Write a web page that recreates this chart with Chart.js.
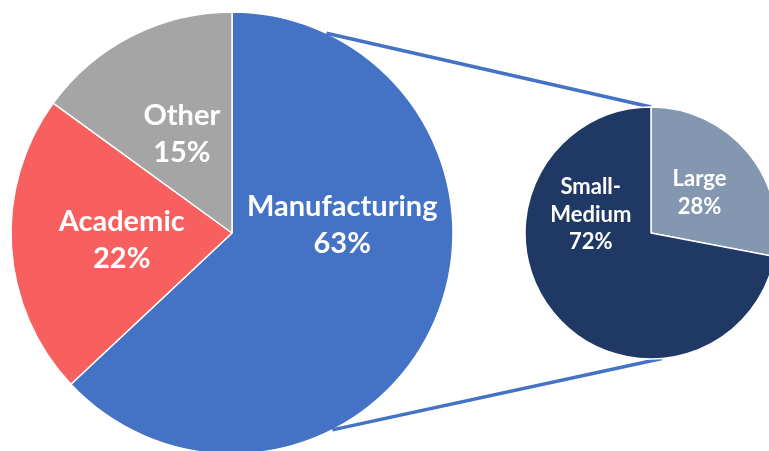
<!DOCTYPE html>
<html>
<head>
<meta charset="utf-8">
<script src="https://cdn.jsdelivr.net/npm/chart.js@4.4.0/dist/chart.umd.min.js"></script>
<style>
  html, body { margin: 0; padding: 0; background: #fff; overflow: hidden; }
  #wrap { position: relative; width: 769px; height: 451px; overflow: hidden; }
  #wrap canvas { position: absolute; left: 0; top: 0; }
</style>
</head>
<body>
<div id="wrap">
  <canvas id="sectorChart" width="769" height="456"></canvas>
  <canvas id="sizeChart" width="769" height="456"></canvas>
</div>
<script>
// main pie: share of users by sector (%)
var sectorLabels = ['Manufacturing', 'Academic', 'Other'];
var sectorShares = [63, 22, 15];
var sectorColors = ['#4472C4', '#F8605F', '#A5A5A5'];

// secondary pie: manufacturing split by company size (%)
var sizeLabels = [['Large'], ['Small-', 'Medium']];
var sizeShares = [28, 72];
var sizeColors = ['#8497B0', '#203864'];

var labelFont = 'Lato, "Liberation Sans", sans-serif';

function degToArc(deg) {
  return (deg - 90) * Math.PI / 180;
}

// white text in each slice, label + percent
var sliceLabelPlugin = {
  id: 'sliceLabels',
  afterDatasetsDraw: function (chart, args, opts) {
    var ctx = chart.ctx;
    var meta = chart.getDatasetMeta(0);
    var values = chart.data.datasets[0].data;
    ctx.save();
    ctx.fillStyle = '#fff';
    ctx.font = 'bold ' + opts.size + 'px ' + labelFont;
    ctx.textAlign = 'center';
    ctx.textBaseline = 'middle';
    meta.data.forEach(function (arc, i) {
      var p = arc.getProps(['x', 'y', 'startAngle', 'endAngle', 'outerRadius'], true);
      var mid = (p.startAngle + p.endAngle) / 2;
      if (opts.angles && opts.angles[i] != null) mid = degToArc(opts.angles[i]);
      var r = p.outerRadius * 0.5;
      var cx = p.x + Math.cos(mid) * r;
      var cy = p.y + Math.sin(mid) * r;
      var lines = [].concat(chart.data.labels[i], values[i] + '%');
      var top = cy - (lines.length - 1) * opts.lineHeight / 2;
      lines.forEach(function (t, k) {
        ctx.fillText(t, cx, top + k * opts.lineHeight);
      });
    });
    ctx.restore();
  }
};

function edgePoint(arc, deg) {
  var a = degToArc(deg);
  return { x: arc.x + Math.cos(a) * arc.outerRadius, y: arc.y + Math.sin(a) * arc.outerRadius };
}

// lines from the manufacturing slice to the breakdown pie
var connectorPlugin = {
  id: 'connectors',
  beforeDatasetsDraw: function (chart, args, opts) {
    var big = Chart.getChart('sectorChart').getDatasetMeta(0).data[0];
    var small = chart.getDatasetMeta(0).data[0];
    var ctx = chart.ctx;
    ctx.save();
    ctx.strokeStyle = '#4472C4';
    ctx.lineWidth = 3.5;
    [[opts.bigTop, opts.smallTop], [opts.bigBottom, opts.smallBottom]].forEach(function (pair) {
      var a = edgePoint(big, pair[0]);
      var b = edgePoint(small, pair[1]);
      ctx.beginPath();
      ctx.moveTo(a.x, a.y);
      ctx.lineTo(b.x, b.y);
      ctx.stroke();
    });
    ctx.restore();
  }
};

new Chart(document.getElementById('sectorChart'), {
  type: 'pie',
  data: {
    labels: sectorLabels,
    datasets: [{
      data: sectorShares,
      backgroundColor: sectorColors,
      borderColor: '#fff',
      borderWidth: 1.5,
      hoverOffset: 0,
      radius: 221,
      clip: false
    }]
  },
  options: {
    responsive: false,
    animation: false,
    events: [],
    layout: { padding: { left: 11, right: 316, top: 12, bottom: 2 } },
    plugins: {
      legend: { display: false },
      tooltip: { enabled: false },
      sliceLabels: { size: 29, lineHeight: 37, angles: [86, null, null] }
    }
  },
  plugins: [sliceLabelPlugin]
});

new Chart(document.getElementById('sizeChart'), {
  type: 'pie',
  data: {
    labels: sizeLabels,
    datasets: [{
      data: sizeShares,
      backgroundColor: sizeColors,
      borderColor: '#fff',
      borderWidth: 1.5,
      hoverOffset: 0,
      radius: 126,
      clip: false
    }]
  },
  options: {
    responsive: false,
    animation: false,
    events: [],
    layout: { padding: { left: 600, right: 67, top: 180, bottom: 170 } },
    plugins: {
      legend: { display: false },
      tooltip: { enabled: false },
      sliceLabels: { size: 22, lineHeight: 27.5, angles: [null, 287] },
      connectors: { bigTop: 25.3, bigBottom: 153, smallTop: 0, smallBottom: 175 }
    }
  },
  plugins: [connectorPlugin, sliceLabelPlugin]
});
</script>
</body>
</html>
